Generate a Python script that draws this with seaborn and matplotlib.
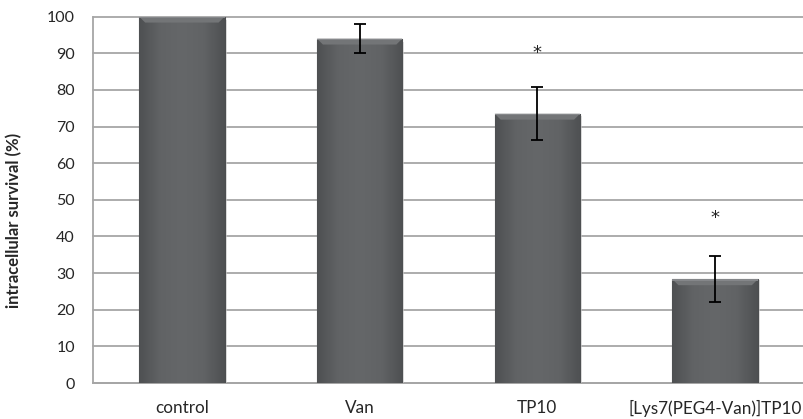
import numpy as np
import matplotlib
matplotlib.use("Agg")
import matplotlib.pyplot as plt
import seaborn as sns
from matplotlib.colors import LinearSegmentedColormap
from matplotlib.patches import Rectangle, Polygon

# values
groups = ["control", "Van", "TP10", "[Lys7(PEG4-Van)]TP10"]
survival = [100, 94, 73.5, 28.3]
err = [0, 4, 7.2, 6.3]
star_y = [None, None, 90, 45]
yticks = list(range(0, 101, 10))

sns.set_style("white")
plt.rcParams["font.family"] = ["Lato", "DejaVu Sans"]

fig = plt.figure(figsize=(8.04, 4.19), dpi=100)
ax = fig.add_axes([93 / 804, 1 - 383 / 419, 1 - 93 / 804, (383 - 16.7) / 419])

sns.barplot(x=groups, y=survival, color="#5d5f61", width=0.48, errorbar=None,
            ax=ax, zorder=3, linewidth=0.8, edgecolor="#4c4e50")

ax.set_xlim(-0.5, 3.478)
ax.set_ylim(0, 100)

# horizontal gradient + lighter top bevel on each bar
grad_cmap = LinearSegmentedColormap.from_list("bar", ["#4e5052", "#616365", "#656769", "#616365", "#4e5052"])
grad = np.linspace(0, 1, 256).reshape(1, -1)
for p in list(ax.patches):
    x0, w, h = p.get_x(), p.get_width(), p.get_height()
    im = ax.imshow(grad, extent=[x0, x0 + w, 0, h], aspect="auto", cmap=grad_cmap,
                   zorder=3.5, interpolation="bicubic")
    im.set_clip_path(p)
    bh = 1.6
    bw = w * 0.07
    ax.add_patch(Polygon([(x0, h), (x0 + w, h), (x0 + w - bw, h - bh), (x0 + bw, h - bh)],
                         closed=True, facecolor="#737577", edgecolor="none", zorder=3.6))
    ax.add_patch(Rectangle((x0, h - 0.35), w, 0.35, facecolor="#85878a",
                           edgecolor="none", zorder=3.7))
    # soft shadow on right side
    ax.add_patch(Rectangle((x0 + w, 0), w * 0.025, h * 0.99, facecolor="#cfcfcf",
                           edgecolor="none", zorder=2.9, alpha=0.6))

xs = np.arange(len(groups))
has_err = np.array(err) > 0
ax.errorbar(xs[has_err], np.array(survival)[has_err], yerr=np.array(err)[has_err],
            fmt="none", ecolor="black", elinewidth=1.3, capsize=4.5, capthick=1.3, zorder=5)

for i, s in enumerate(star_y):
    if s is not None:
        ax.text(i, s, "*", ha="center", va="center", fontsize=13, color="#222222",
                family="DejaVu Sans", zorder=5)

ax.set_yticks(yticks)
ax.set_yticklabels([str(t) for t in yticks], fontsize=11.5)
ax.yaxis.grid(True, color="#a6a6a6", linewidth=1.3, zorder=0)
ax.set_axisbelow(True)
for gl in ax.get_ygridlines():
    gl.set_clip_on(False)

ax.set_xticks(xs)
ax.set_xticklabels(groups, fontsize=12.3)
ax.tick_params(axis="x", length=0, pad=12)
ax.set_xticks(np.arange(-0.5, 3.6, 1.0), minor=True)
ax.tick_params(axis="x", which="minor", length=4, color="#8c8c8c", width=1)
ax.tick_params(axis="y", length=4, color="#a6a6a6", width=1.3, pad=9)

for side in ["top", "right"]:
    ax.spines[side].set_visible(False)
ax.spines["left"].set_color("#a6a6a6")
ax.spines["left"].set_linewidth(1.3)
ax.spines["bottom"].set_color("#a6a6a6")
ax.spines["bottom"].set_linewidth(1.3)

ax.set_xlabel("")
ax.set_ylabel("intracellular survival (%)", fontsize=12, fontweight="bold")
ax.yaxis.set_label_coords(-0.099, 0.443)

fig.savefig("out.png", dpi=100)
